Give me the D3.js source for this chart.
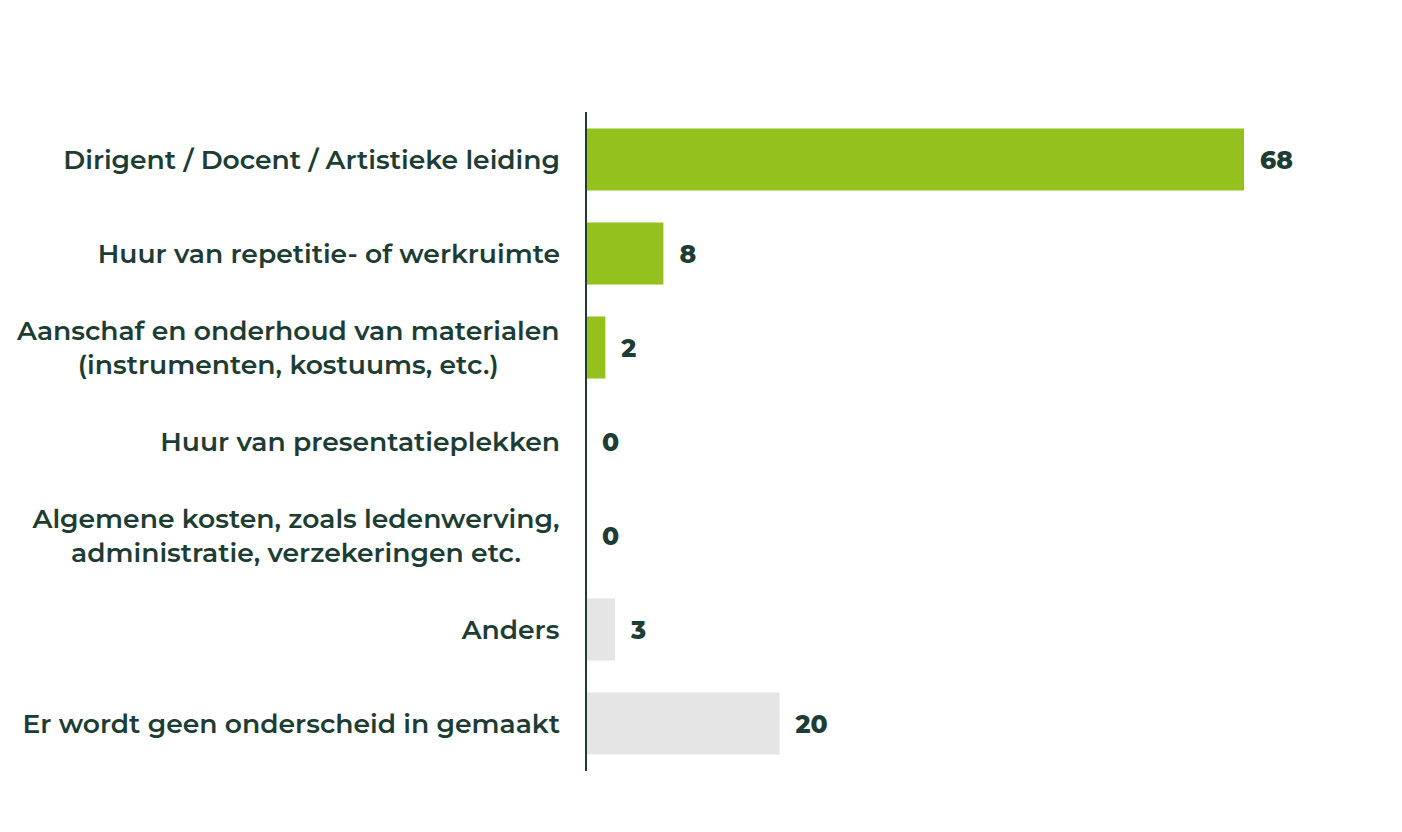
<!DOCTYPE html>
<html>
<head>
<meta charset="utf-8">
<script src="https://cdn.jsdelivr.net/npm/d3@7"></script>
<style>
  body { margin: 0; background: #fff; }
  svg text { font-family: Montserrat, 'Open Sans', sans-serif; fill: #1d3d34; }
</style>
</head>
<body>
<svg id="chart"></svg>
<script>
// categories, each entry is one line of the label
var categories = [
	['Dirigent / Docent / Artistieke leiding'],
	['Huur van repetitie- of werkruimte'],
	['Aanschaf en onderhoud van materialen', '(instrumenten, kostuums, etc.)'],
	['Huur van presentatieplekken'],
	['Algemene kosten, zoals ledenwerving,', 'administratie, verzekeringen etc.'],
	['Anders'],
	['Er wordt geen onderscheid in gemaakt']
];
var values = [68, 8, 2, 0, 0, 3, 20];
var groups = ['main', 'main', 'main', 'main', 'main', 'other', 'other'];

var width = 1402;
var height = 832;
var axisX = 586;

var svg = d3.select('#chart')
	.attr('width', width)
	.attr('height', height);

var data = categories.map(function(c, i) {
	return { key: i, lines: c, value: values[i], group: groups[i] };
});

// value scale, 68 reaches the end of the longest bar
var x = d3.scaleLinear()
	.domain([0, 68])
	.range([axisX, 1244]);

var y = d3.scaleBand()
	.domain(data.map(function(d) { return d.key; }))
	.range([112.5, 770.5])
	.paddingInner(0.34)
	.paddingOuter(0.17);

var color = d3.scaleOrdinal()
	.domain(['main', 'other'])
	.range(['#95c11f', '#e5e5e5']);

// bars
svg.append('g')
	.selectAll('rect')
	.data(data)
	.enter()
	.append('rect')
	.attr('x', x(0) + 1)
	.attr('y', function(d) { return y(d.key); })
	.attr('width', function(d) { return Math.max(0, x(d.value) - x(0) - 1); })
	.attr('height', y.bandwidth())
	.attr('fill', function(d) { return color(d.group); });

// value labels
svg.append('g')
	.selectAll('text')
	.data(data)
	.enter()
	.append('text')
	.attr('x', function(d) { return x(d.value) + 16; })
	.attr('y', function(d) { return y(d.key) + y.bandwidth() / 2; })
	.attr('dy', '0.36em')
	.style('font-size', '25px')
	.style('font-weight', 800)
	.text(function(d) { return d.value; });

// axis with category labels
var axis = svg.append('g')
	.attr('transform', 'translate(' + axisX + ',0)')
	.call(d3.axisLeft(y).tickSize(0).tickSizeOuter(0).tickFormat(''));

axis.select('.domain')
	.attr('stroke', '#1d3d34')
	.attr('stroke-width', 2)
	.attr('d', 'M0,112V771');

var lineHeight = 34;
axis.selectAll('.tick').each(function(k) {
	var d = data[k];
	var t = d3.select(this).select('text')
		.attr('x', 0)
		.attr('dy', null)
		.style('font-size', '26.6px')
		.style('font-weight', 600)
		.style('text-anchor', 'middle');
	var n = d.lines.length;
	d.lines.forEach(function(line, i) {
		t.append('tspan')
			.attr('x', 0)
			.attr('y', (i - (n - 1) / 2) * lineHeight)
			.attr('dy', '0.36em')
			.text(line);
	});
	// right-align the block, centre the lines inside it
	var w = t.node().getBBox().width;
	t.selectAll('tspan').attr('x', -26 - w / 2);
});
</script>
</body>
</html>
